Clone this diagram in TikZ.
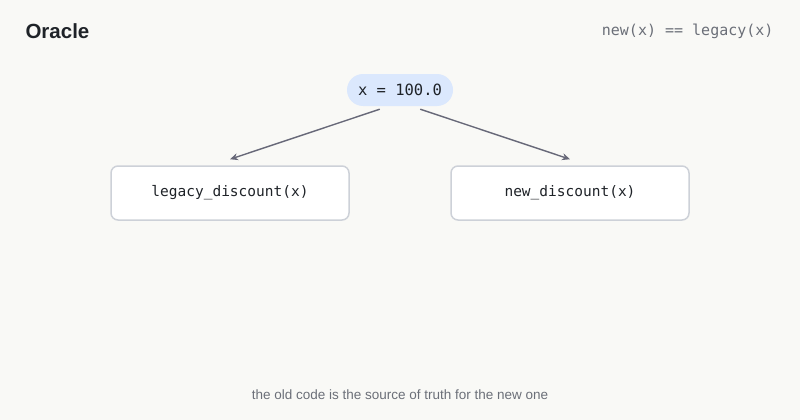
\documentclass[tikz,border=0pt]{standalone}
\usepackage{fontspec}
\setmainfont{Liberation Sans}
\setsansfont{Liberation Sans}
\setmonofont{DejaVu Sans Mono}
\usetikzlibrary{arrows.meta}
\definecolor{bg}{HTML}{F9F9F6}
\definecolor{pill}{HTML}{DBE8FD}
\definecolor{bord}{HTML}{CDD1D8}
\definecolor{arr}{HTML}{676878}
\definecolor{txt}{HTML}{1F2328}
\definecolor{gr}{HTML}{6B6F78}
\begin{document}
\begin{tikzpicture}[x=1pt,y=-1pt,
  box/.style={draw=bord,line width=1.5pt,fill=white,rounded corners=7pt,minimum width=238pt,minimum height=54pt,font=\ttfamily\fontsize{14.5}{17}\selectfont,text=txt},
  conn/.style={draw=arr,line width=1.4pt,-{Stealth[length=8pt,width=7pt]}}]
\fill[bg] (0,0) rectangle (800,420);
\useasboundingbox (0,0) rectangle (800,420);
\node[anchor=west,font=\bfseries\fontsize{20.5}{24}\selectfont,text=txt] (title) at (22,31) {Oracle};
\node[anchor=east,font=\ttfamily\fontsize{15}{17}\selectfont,text=gr] (eq) at (777,31) {new(x) == legacy(x)};
\node[fill=pill,rounded corners=16pt,minimum width=106pt,minimum height=32pt,font=\ttfamily\fontsize{15.5}{18}\selectfont,text=txt] (x) at (400,90) {x = 100.0};
\node[box] (l) at (230,193) {legacy\_discount(x)};
\node[box] (r) at (570,193) {new\_discount(x)};
\draw[conn] (x.south west)++(33,3) -- ([yshift=6pt]l.north);
\draw[conn] (x.south east)++(-33,3) -- ([yshift=6pt]r.north);
\node[font=\fontsize{13.5}{16}\selectfont,text=gr] (cap) at (400,395) {the old code is the source of truth for the new one};
\end{tikzpicture}
\end{document}
